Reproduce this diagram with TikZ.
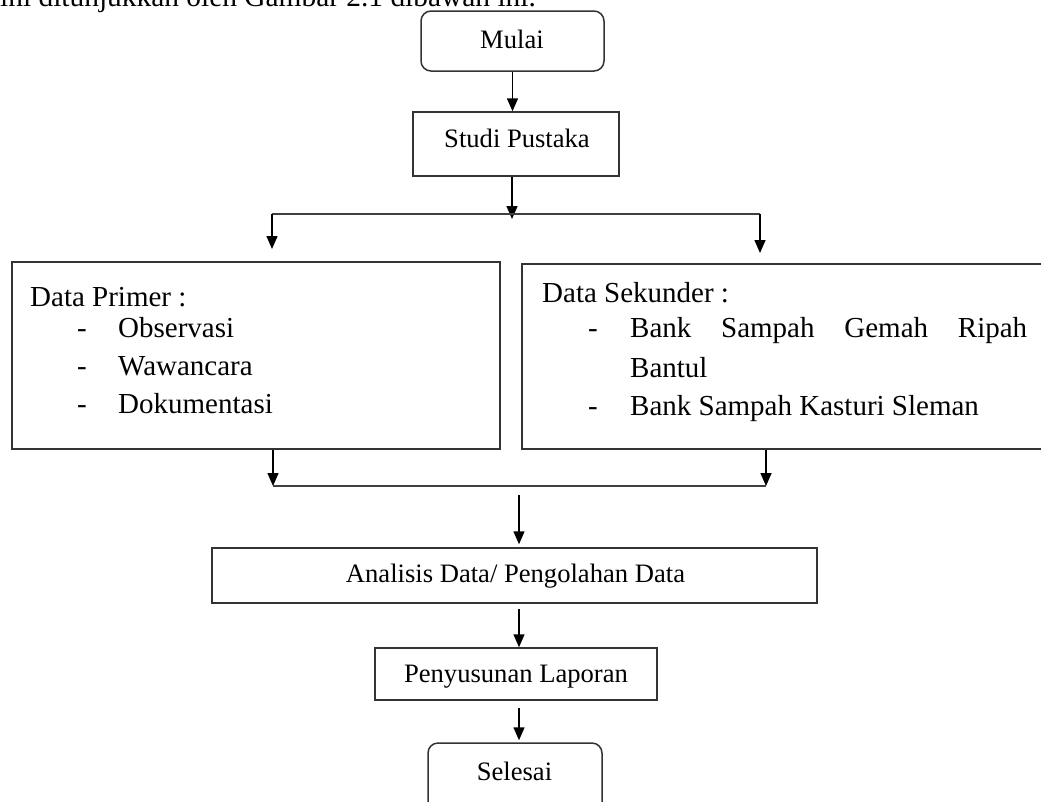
\documentclass[tikz,border=0pt]{standalone}
\usepackage{fontspec}
\setmainfont{Liberation Serif}
\usetikzlibrary{arrows.meta}
\begin{document}
\begin{tikzpicture}[x=1pt,y=-1pt,
  box/.style={draw=black!80, line width=1.5pt, inner sep=0pt},
  rbox/.style={box, rounded corners=10pt},
  txtA/.style={inner sep=0pt, anchor=base, font=\fontsize{26.6}{32}\selectfont},
  txtB/.style={inner sep=0pt, anchor=base west, font=\fontsize{29}{35}\selectfont},
  arr/.style={draw=black, line width=1.5pt, -{Triangle[width=11pt,length=13pt]}},
  ln/.style={draw=black!75, line width=1.5pt}]
\useasboundingbox (0,0) rectangle (1041,801);

% intro text (cut at the top)
\node[txtB, font=\fontsize{29.4}{35}\selectfont] (intro) at (0,6) {ini ditunjukkan oleh Gambar 2.1 dibawah ini.};

% boxes
\node[rbox, minimum width=183pt, minimum height=60pt] (mulai) at (512.5,41) {};
\node[box, minimum width=206pt, minimum height=64pt] (studi) at (516,144) {};
\node[box, minimum width=488pt, minimum height=187pt] (prim) at (256,355.5) {};
\node[box, minimum width=530pt, minimum height=185pt] (sek) at (787,356.5) {};
\node[box, minimum width=605pt, minimum height=55pt] (anal) at (514.5,575.5) {};
\node[box, minimum width=282pt, minimum height=52pt] (peny) at (516,674) {};
\node[rbox, minimum width=174pt, minimum height=80pt] (sel) at (515,783) {};

% texts
\node[txtA] (tmulai) at (512,48) {Mulai};
\node[txtA] (tstudi) at (517,147) {Studi Pustaka};
\node[txtB] (tprim) at (30,306) {Data Primer :};
\node[txtB] (d1) at (77,337) {-};
\node[txtB] (obs) at (118,337) {Observasi};
\node[txtB] (d2) at (77,375) {-};
\node[txtB] (waw) at (118,375) {Wawancara};
\node[txtB] (d3) at (77,413) {-};
\node[txtB] (dok) at (118,413) {Dokumentasi};
\node[txtB] (tsek) at (542,302) {Data Sekunder :};
\node[txtB] (d4) at (588,337) {-};
\node[txtB] (bank1) at (630,337) {\makebox[397pt][s]{Bank Sampah Gemah Ripah}};
\node[txtB] (bantul) at (630,377) {Bantul};
\node[txtB] (d5) at (588,415) {-};
\node[txtB] (bank2) at (630,415) {Bank Sampah Kasturi Sleman};
\node[txtA] (tanal) at (515.5,582) {Analisis Data/ Pengolahan Data};
\node[txtA] (tpeny) at (516,682) {Penyusunan Laporan};
\node[txtA] (tsel) at (514.5,780) {Selesai};

% connector points
\coordinate (bc) at (512,214);
\coordinate (bt) at (512,219);
\coordinate (bl) at (272,214);
\coordinate (br) at (760,214);
\coordinate (pl) at (272,249);
\coordinate (pr) at (760,253);
\coordinate (ml) at (273,486);
\coordinate (mr) at (766,486);
\coordinate (ms) at (519,495);

% connectors
\draw[arr] (mulai.south) -- (mulai.south |- studi.north);
\draw[arr] (studi.south -| bc) -- (bt);
\draw[ln] (bl) -- (br);
\draw[arr] (bl) -- (pl);
\draw[arr] (br) -- (pr);
\draw[arr] (prim.south -| ml) -- (ml);
\draw[arr] (sek.south -| mr) -- (mr);
\draw[ln] (ml) -- (mr);
\draw[arr, shorten >=3pt] (ms) -- (ms |- anal.north);
\draw[arr, shorten <=5pt] (anal.south -| ms) -- (ms |- peny.north);
\draw[arr, shorten <=7pt, shorten >=2pt] (peny.south -| ms) -- (ms |- sel.north);
\end{tikzpicture}
\end{document}
